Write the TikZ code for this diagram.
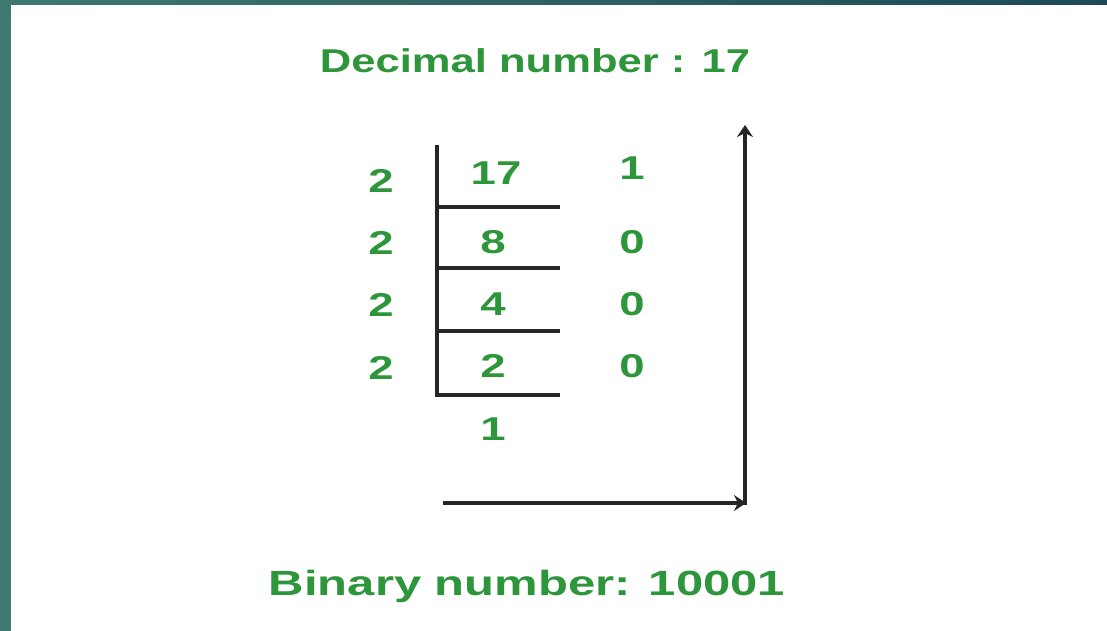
\documentclass[tikz,border=0pt]{standalone}
\usepackage{fontspec}
\setmainfont{Liberation Sans}
\usepackage{xcolor}
\usepackage{tikz}
\usetikzlibrary{arrows.meta}
\definecolor{digitgreen}{RGB}{46,150,58}
\definecolor{frameleft}{RGB}{62,122,112}
\definecolor{frameright}{RGB}{28,74,88}

\begin{document}
\begin{tikzpicture}[x=1pt, y=-1pt,
      title/.style={text=digitgreen, inner sep=0pt,
                    font=\fontsize{33}{33}\selectfont\bfseries, xscale=1.32},
      num/.style={text=digitgreen, inner sep=0pt,
                  font=\fontsize{33}{33}\selectfont\bfseries, xscale=1.38},
      bar/.style={line width=4.6pt, color=black!85, line cap=rect},
      arr/.style={line width=4.6pt, color=black!85,
                  -{Stealth[length=12pt, width=16pt]}}
  ]
    % frame and page
    \shade[left color=frameleft, right color=frameright] (0,0) rectangle (1107,631);
    \fill[white] (11,5) rectangle (1107,631);
    \useasboundingbox (0,0) rectangle (1107,631);

    \node[title] (dec) at (535,61) {Decimal number : 17};
    \node[title, font=\fontsize{35}{35}\selectfont\bfseries, xscale=1.06] (bin) at (527,586) {Binary number: 10001};

    % divisors, quotients, remainders
    \node[num] (d1) at (381,181) {2};
    \node[num] (d2) at (381,243) {2};
    \node[num] (d3) at (381,305) {2};
    \node[num] (d4) at (381,368) {2};
    \node[num] (q17) at (496,173) {17};
    \node[num] (q8)  at (493,242) {8};
    \node[num] (q4)  at (493,304) {4};
    \node[num] (q2)  at (493,366) {2};
    \node[num] (q1)  at (493,429) {1};
    \node[num] (r1)  at (632,168) {1};
    \node[num] (r2)  at (632,242) {0};
    \node[num] (r3)  at (632,304) {0};
    \node[num] (r4)  at (632,366) {0};

    % division bracket
    \coordinate (top) at (437,147);
    \coordinate (b1) at (437,207);
    \coordinate (b2) at (437,268);
    \coordinate (b3) at (437,331);
    \coordinate (b4) at (437,395);
    \coordinate (e1) at (558,207);
    \coordinate (e2) at (558,268);
    \coordinate (e3) at (558,331);
    \coordinate (e4) at (558,395);
    \draw[bar] (top) -- (b4);
    \draw[bar] (b1) -- (e1);
    \draw[bar] (b2) -- (e2);
    \draw[bar] (b3) -- (e3);
    \draw[bar] (b4) -- (e4);

    % reading direction
    \coordinate (start) at (443,503);
    \coordinate (corner) at (746,503);
    \coordinate (low) at (745,505);
    \coordinate (up) at (745,125);
    \draw[arr] (start) -- (corner);
    \draw[arr] (low) -- (up);
  \end{tikzpicture}
\end{document}
